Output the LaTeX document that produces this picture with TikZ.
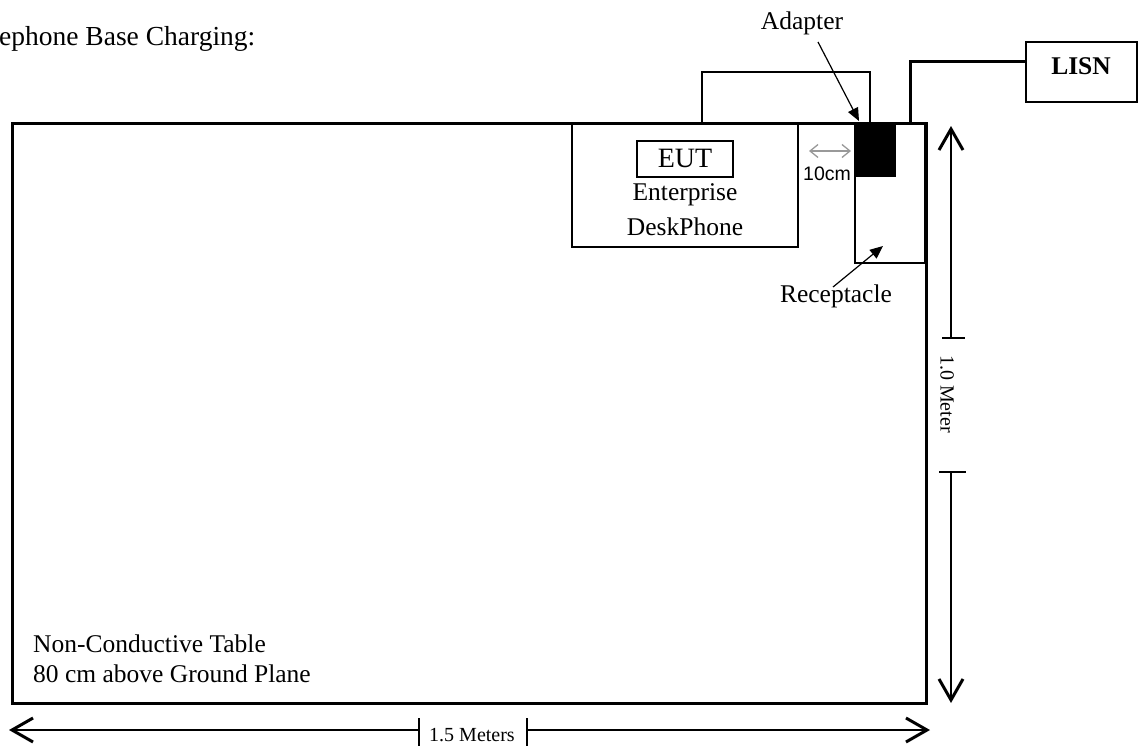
\documentclass[tikz,border=0pt]{standalone}
\usepackage{fontspec}
\setmainfont{Liberation Serif}
\newfontfamily\arialf{Liberation Sans}
\usetikzlibrary{arrows.meta}
\begin{document}
\begin{tikzpicture}[x=1pt,y=-1pt,
  thinbox/.style={draw, line width=1.3pt, inner sep=0pt, outer sep=0pt, anchor=north west},
  lbl/.style={inner sep=0pt, font=\fontsize{25.5}{30}\selectfont},
  small/.style={inner sep=0pt, font=\fontsize{20}{24}\selectfont},
  dim/.style={line width=1.5pt},
  dimhead/.style={-{Straight Barb[length=21pt,width=24pt,line width=3pt]}},
  callout/.style={line width=1.2pt, -{Triangle[length=13pt,width=11pt]}},
  cable/.style={line width=1.3pt},
  powercable/.style={line width=3pt},
]
\useasboundingbox (0,0) rectangle (1142,747);

% title
\node[inner sep=0pt, anchor=base west, font=\fontsize{27.5}{32}\selectfont] (title) at (-1,45) {ephone Base Charging:};

% table
\node[thinbox, line width=3pt, minimum width=914pt, minimum height=580pt] (table) at (12,123) {};
\node[lbl, anchor=base west] (tab1) at (33,652) {Non-Conductive Table};
\node[lbl, anchor=base west] (tab2) at (33,682) {80 cm above Ground Plane};

% EUT device
\node[thinbox, minimum width=226pt, minimum height=124pt] (eut) at (572,123) {};
\node[thinbox, minimum width=96pt, minimum height=36pt] (eutlbl) at (637,141) {};
\node[inner sep=0pt, anchor=base, font=\fontsize{28}{32}\selectfont] (euttxt) at (685,167) {EUT};
\node[lbl, anchor=base] (ent) at (685,200) {Enterprise};
\node[lbl, anchor=base] (desk) at (685,235) {DeskPhone};

% receptacle and adapter
\node[thinbox, minimum width=70pt, minimum height=140pt] (recep) at (855,123) {};
\node[thinbox, fill=black, minimum width=40pt, minimum height=53pt] (adapter) at (855,123) {};

% cable loop EUT -> adapter
\coordinate (c1) at (702,123);
\coordinate (c2) at (702,72);
\coordinate (c3) at (870,72);
\coordinate (c4) at (870,123);
\draw[cable] (c1) -- (c2) -- (c3) -- (c4);

% LISN
\node[thinbox, line width=2pt, minimum width=111pt, minimum height=60pt] (lisn) at (1026,42) {};
\node[inner sep=0pt, anchor=base, font=\fontsize{25.5}{30}\selectfont\bfseries] (lisntxt) at (1081,74) {LISN};
\coordinate (p1) at (910,123);
\coordinate (p2) at (910,61);
\coordinate (p3) at (1026,61);
\draw[powercable] (p1) -- (p2) -- (p3);

% labels with callouts
\node[lbl, anchor=base] (adlbl) at (802,29) {Adapter};
\coordinate (a1) at (818,42);
\coordinate (a2) at (859,121);
\draw[callout] (a1) -- (a2);

\node[lbl, anchor=base] (reclbl) at (836,302) {Receptacle};
\coordinate (r1) at (833,287);
\coordinate (r2) at (883,246);
\draw[callout] (r1) -- (r2);

% 10 cm
\coordinate (g1) at (809,151);
\coordinate (g2) at (851,151);
\draw[line width=1.3pt, color=black!40, {Straight Barb[length=8pt,width=13pt]}-{Straight Barb[length=8pt,width=13pt]}] (g1) -- (g2);
\node[inner sep=0pt, anchor=base, font=\arialf\fontsize{19.5}{22}\selectfont] (tencm) at (827,180) {10cm};

% vertical dimension
\coordinate (v1) at (951,338);
\coordinate (v2) at (951,126);
\coordinate (v3) at (951,472);
\coordinate (v4) at (951,703);
\draw[dim, dimhead] (v1) -- (v2);
\draw[dim, dimhead] (v3) -- (v4);
\coordinate (vt1a) at (942,338);
\coordinate (vt1b) at (965,338);
\coordinate (vt2a) at (939,472);
\coordinate (vt2b) at (966,472);
\draw[dim] (vt1a) -- (vt1b);
\draw[dim] (vt2a) -- (vt2b);
\node[small, rotate=-90] (vlbl) at (947,394) {1.0 Meter};

% horizontal dimension
\coordinate (h1) at (419,730);
\coordinate (h2) at (9,730);
\coordinate (h3) at (527,730);
\coordinate (h4) at (930,730);
\draw[dim, dimhead] (h1) -- (h2);
\draw[dim, dimhead] (h3) -- (h4);
\coordinate (ht1a) at (419,718);
\coordinate (ht1b) at (419,746);
\coordinate (ht2a) at (527,718);
\coordinate (ht2b) at (527,746);
\draw[dim] (ht1a) -- (ht1b);
\draw[dim] (ht2a) -- (ht2b);
\node[small, anchor=base] (hlbl) at (472,741) {1.5 Meters};
\end{tikzpicture}
\end{document}
